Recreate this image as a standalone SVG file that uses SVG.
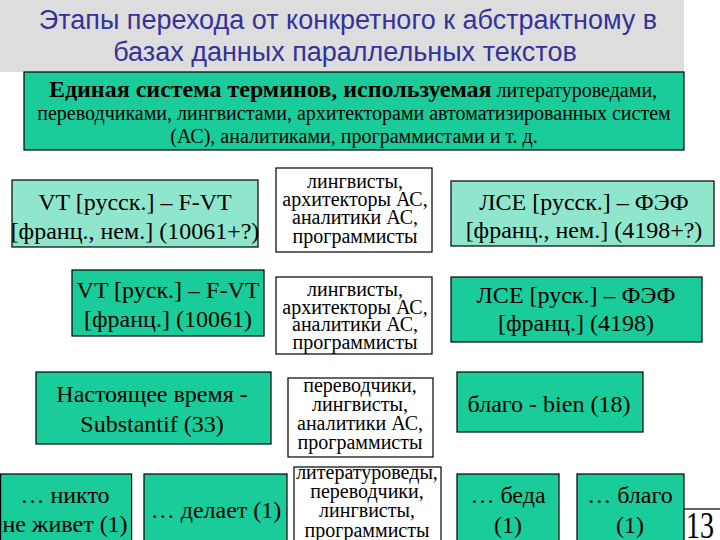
<svg xmlns="http://www.w3.org/2000/svg" width="720" height="540" viewBox="0 0 720 540">
<style>
.g{fill:#1ACC99;stroke:#000;stroke-width:1.2}
.l{fill:#90E6CD;stroke:#000;stroke-width:1.2}
.w{fill:#fff;stroke:#000;stroke-width:1.2}
text{font-family:"Liberation Serif","Times New Roman",serif;fill:#000;text-anchor:middle}
.t{font-family:"Liberation Sans",Arial,sans-serif;font-size:27px;fill:#333399}
.b{font-size:24px}
.s{font-size:20px}
</style>
<rect x="0" y="0" width="684" height="72" fill="#DDDDDD"/>
<g id="title">
<text class="t" x="348" y="29">Этапы перехода от конкретного к абстрактному в</text>
<text class="t" x="345" y="61">базах данных параллельных текстов</text>
</g>
<g id="top">
<rect class="g" x="24" y="72" width="660" height="78"/>
<text x="353" y="97"><tspan font-weight="bold" font-size="24px">Единая система терминов, используемая</tspan><tspan font-size="20px"> литературоведами,</tspan></text>
<text x="354" y="120" font-size="20px">переводчиками, лингвистами, архитекторами автоматизированных систем</text>
<text x="354" y="143" font-size="20px">(АС), аналитиками, программистами и т. д.</text>
</g>
<g id="vt1">
<rect class="l" x="12" y="180" width="246" height="67"/>
<text class="b" x="135" y="210">VT [русск.] – F-VT</text>
<text class="b" x="135" y="239">[франц., нем.] (10061+?)</text>
</g>
<g id="vt2">
<rect class="g" x="72" y="270" width="192" height="66"/>
<text class="b" x="168" y="298">VT [руск.] – F-VT</text>
<text class="b" x="168" y="327">[франц.] (10061)</text>
</g>
<g id="w1">
<rect class="w" x="276" y="168" width="156" height="84"/>
<text class="s" x="355" y="188">лингвисты,</text>
<text class="s" x="355" y="206">архитекторы АС,</text>
<text class="s" x="355" y="224">аналитики АС,</text>
<text class="s" x="355" y="243">программисты</text>
</g>
<g id="w2">
<rect class="w" x="276" y="277" width="156" height="77"/>
<text class="s" x="355" y="296">лингвисты,</text>
<text class="s" x="355" y="314">архитекторы АС,</text>
<text class="s" x="355" y="331">аналитики АС,</text>
<text class="s" x="355" y="349">программисты</text>
</g>
<g id="lce1">
<rect class="l" x="451" y="181" width="263" height="65"/>
<text class="b" x="584" y="210">ЛСЕ [русск.] – ФЭФ</text>
<text class="b" x="584" y="238">[франц., нем.] (4198+?)</text>
</g>
<g id="lce2">
<rect class="g" x="451" y="277" width="251" height="65"/>
<text class="b" x="576" y="303">ЛСЕ [руск.] – ФЭФ</text>
<text class="b" x="576" y="331">[франц.] (4198)</text>
</g>
<g id="nast">
<rect class="g" x="36" y="372" width="235" height="72"/>
<text class="b" x="152" y="402">Настоящее время -</text>
<text class="b" x="152" y="432">Substantif (33)</text>
</g>
<g id="w3">
<rect class="w" x="288" y="378" width="145" height="79"/>
<text class="s" x="360" y="392">переводчики,</text>
<text class="s" x="360" y="411">лингвисты,</text>
<text class="s" x="360" y="430">аналитики АС,</text>
<text class="s" x="360" y="449">программисты</text>
</g>
<g id="blago">
<rect class="g" x="457" y="372" width="186" height="60"/>
<text class="b" x="549" y="412">благо - bien (18)</text>
</g>
<g id="nikto">
<rect class="g" x="0.6" y="474" width="131" height="70"/>
<text class="b" x="65" y="503">… никто</text>
<text class="b" x="65" y="532">не живет (1)</text>
</g>
<g id="delaet">
<rect class="g" x="144" y="474" width="143" height="70"/>
<text class="b" x="216" y="518">… делает (1)</text>
</g>
<g id="w4">
<rect class="w" x="294" y="467" width="147" height="77"/>
<text class="s" x="367" y="479">литературоведы,</text>
<text class="s" x="367" y="498">переводчики,</text>
<text class="s" x="367" y="517">лингвисты,</text>
<text class="s" x="367" y="537">программисты</text>
</g>
<g id="beda">
<rect class="g" x="457" y="474" width="102" height="70"/>
<text class="b" x="508" y="503">… беда</text>
<text class="b" x="508" y="533">(1)</text>
</g>
<g id="blago2">
<rect class="g" x="577" y="474" width="107" height="70"/>
<text class="b" x="630" y="503">… благо</text>
<text class="b" x="630" y="533">(1)</text>
</g>
<g id="num">
<rect class="w" x="684" y="509" width="40" height="35"/>
<text x="700" y="538" font-size="38px" textLength="28" lengthAdjust="spacingAndGlyphs">13</text>
</g>
</svg>
